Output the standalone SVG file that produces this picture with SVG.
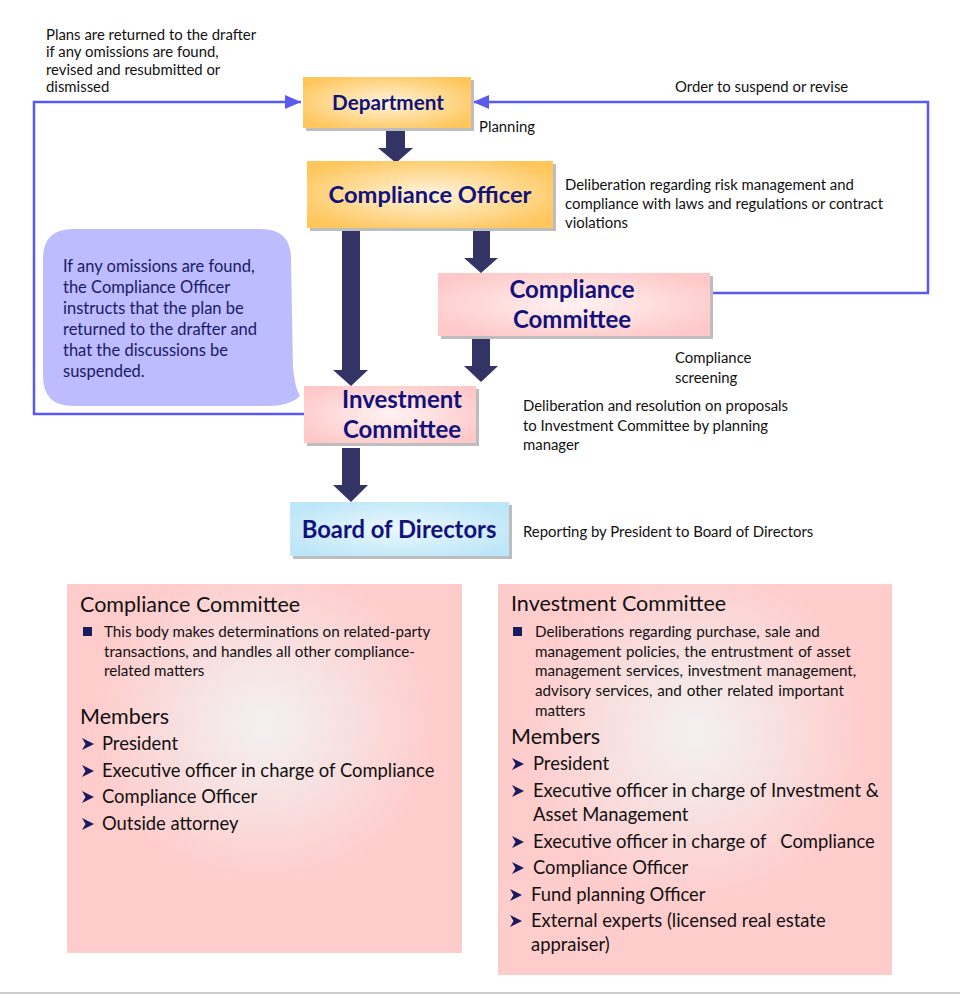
<svg xmlns="http://www.w3.org/2000/svg" width="960" height="995" viewBox="0 0 960 995">
<style>
.lbl{font-family:Lato,"Open Sans","Liberation Sans",sans-serif;font-size:14.9px;fill:#111}
.ttl{font-family:Lato,"Open Sans","Liberation Sans",sans-serif;font-weight:bold;fill:#12127a;text-anchor:middle}
.bub{font-family:Lato,"Open Sans","Liberation Sans",sans-serif;font-size:16.5px;fill:#1a1a66}
.ph{font-family:Lato,"Open Sans","Liberation Sans",sans-serif;font-size:21.5px;fill:#111}
.pt{font-family:Lato,"Open Sans","Liberation Sans",sans-serif;font-size:15.2px;fill:#111}
.pm{font-family:Lato,"Open Sans","Liberation Sans",sans-serif;font-size:18.4px;fill:#111}
.shadow{fill:#bdbdbd}
.fat{fill:#333366}
.blue{fill:none;stroke:#5a5aef;stroke-width:2.5}
</style>
<defs>
<radialGradient id="gOr" cx="50%" cy="50%" r="60%">
<stop offset="0" stop-color="#fff4dc"/><stop offset="1" stop-color="#ffc65c"/>
</radialGradient>
<radialGradient id="gPk" cx="50%" cy="50%" r="60%">
<stop offset="0" stop-color="#fff2f2"/><stop offset="1" stop-color="#ffc8c8"/>
</radialGradient>
<radialGradient id="gBl" cx="50%" cy="50%" r="60%">
<stop offset="0" stop-color="#eaf8fe"/><stop offset="1" stop-color="#bde6f8"/>
</radialGradient>
<radialGradient id="gPanel" cx="50%" cy="38%" r="58%">
<stop offset="0" stop-color="#f4f0f0"/><stop offset="0.25" stop-color="#f6e6e6"/><stop offset="0.75" stop-color="#ffcccc"/><stop offset="1" stop-color="#ffcccc"/>
</radialGradient>
<marker id="ah" markerWidth="16" markerHeight="14" refX="16" refY="7" orient="auto" markerUnits="userSpaceOnUse">
<path d="M0,0 L16,7 L0,14 Z" fill="#5a5aef"/>
</marker>
<path id="chev" d="M0,0 L12,6 L0,12 L3.5,6 Z" fill="#1a1a5e"/>
</defs>
<rect width="960" height="995" fill="#fff"/>
<line x1="0" y1="993" x2="960" y2="993" stroke="#cccccc" stroke-width="2"/>

<g id="connectors">
<polyline class="blue" points="304,414 34,414 34,102 301,102" marker-end="url(#ah)"/>
<polyline class="blue" points="710,293 928,293 928,102 473,102" marker-end="url(#ah)"/>
<path class="fat" d="M386,128 H405 V148 H413 L396,163 L378,148 H386 Z"/>
<path class="fat" d="M342,228 H360 V370 H368 L351,386 L333,370 H342 Z"/>
<path class="fat" d="M473,228 H490 V258 H498 L481,273 L464,258 H473 Z"/>
<path class="fat" d="M472,336 H490 V366 H498 L481,382 L464,366 H472 Z"/>
<path class="fat" d="M342,448 H360 V485 H368 L351,502 L333,485 H342 Z"/>
</g>

<g id="department">
<rect class="shadow" x="306" y="80" width="168" height="51"/>
<rect x="303" y="77" width="168" height="51" fill="url(#gOr)"/>
<text class="ttl" x="388" y="110" font-size="20.7">Department</text>
</g>

<g id="compliance-officer">
<rect class="shadow" x="310" y="164" width="246" height="67"/>
<rect x="307" y="161" width="246" height="67" fill="url(#gOr)"/>
<text class="ttl" x="430" y="203" font-size="23.7">Compliance Officer</text>
</g>

<g id="compliance-committee">
<rect class="shadow" x="441" y="276" width="272" height="63"/>
<rect x="438" y="273" width="272" height="63" fill="url(#gPk)"/>
<text class="ttl" x="572" y="298" font-size="24">Compliance</text>
<text class="ttl" x="572" y="328" font-size="24">Committee</text>
</g>

<g id="investment-committee">
<rect class="shadow" x="307" y="389" width="172" height="57"/>
<rect x="304" y="386" width="172" height="57" fill="url(#gPk)"/>
<text class="ttl" x="402" y="408" font-size="24">Investment</text>
<text class="ttl" x="402" y="438" font-size="24">Committee</text>
</g>

<g id="board">
<rect class="shadow" x="293" y="505" width="219" height="54"/>
<rect x="290" y="502" width="219" height="54" fill="url(#gBl)"/>
<text class="ttl" x="399" y="538" font-size="23.8">Board of Directors</text>
</g>

<g id="bubble">
<path d="M73,229 H261 Q291,229 291,259 L293,368 Q295,388 300,396 Q290,406 268,406 H73 Q43,406 43,376 V259 Q43,229 73,229 Z" fill="#bcbcff"/>
<text class="bub" x="63" y="272">If any omissions are found,</text>
<text class="bub" x="63" y="293">the Compliance Officer</text>
<text class="bub" x="63" y="314">instructs that the plan be</text>
<text class="bub" x="63" y="335">returned to the drafter and</text>
<text class="bub" x="63" y="356">that the discussions be</text>
<text class="bub" x="63" y="377">suspended.</text>
</g>

<g id="labels">
<text class="lbl" x="46" y="40">Plans are returned to the drafter</text>
<text class="lbl" x="46" y="57">if any omissions are found,</text>
<text class="lbl" x="46" y="75">revised and resubmitted or</text>
<text class="lbl" x="46" y="92">dismissed</text>
<text class="lbl" x="479" y="132">Planning</text>
<text class="lbl" x="675" y="92">Order to suspend or revise</text>
<text class="lbl" x="565" y="190">Deliberation regarding risk management and</text>
<text class="lbl" x="565" y="209">compliance with laws and regulations or contract</text>
<text class="lbl" x="565" y="228">violations</text>
<text class="lbl" x="675" y="363">Compliance</text>
<text class="lbl" x="675" y="383">screening</text>
<text class="lbl" x="523" y="411">Deliberation and resolution on proposals</text>
<text class="lbl" x="523" y="431">to Investment Committee by planning</text>
<text class="lbl" x="523" y="450">manager</text>
<text class="lbl" x="523" y="537">Reporting by President to Board of Directors</text>
</g>

<g id="panel-compliance">
<rect x="67" y="584" width="395" height="369" fill="url(#gPanel)"/>
<text class="ph" x="80" y="612">Compliance Committee</text>
<rect x="83" y="627" width="9" height="9" fill="#1a1a5e"/>
<text class="pt" x="104" y="637">This body makes determinations on related-party</text>
<text class="pt" x="104" y="657">transactions, and handles all other compliance-</text>
<text class="pt" x="104" y="676">related matters</text>
<text class="ph" x="80" y="724">Members</text>
<use href="#chev" x="82" y="738"/>
<text class="pm" x="102" y="750">President</text>
<use href="#chev" x="82" y="765"/>
<text class="pm" x="102" y="777">Executive officer in charge of Compliance</text>
<use href="#chev" x="82" y="791"/>
<text class="pm" x="102" y="803">Compliance Officer</text>
<use href="#chev" x="82" y="818"/>
<text class="pm" x="102" y="830">Outside attorney</text>
</g>

<g id="panel-investment">
<rect x="498" y="584" width="394" height="391" fill="url(#gPanel)"/>
<text class="ph" x="511" y="611">Investment Committee</text>
<rect x="513" y="627" width="9" height="9" fill="#1a1a5e"/>
<text class="pt" x="535" y="637" word-spacing="1">Deliberations regarding purchase, sale and</text>
<text class="pt" x="535" y="657" word-spacing="1">management policies, the entrustment of asset</text>
<text class="pt" x="535" y="676" word-spacing="1">management services, investment management,</text>
<text class="pt" x="535" y="696" word-spacing="1">advisory services, and other related important</text>
<text class="pt" x="535" y="716">matters</text>
<text class="ph" x="511" y="744">Members</text>
<use href="#chev" x="512" y="758"/>
<text class="pm" x="533" y="770">President</text>
<use href="#chev" x="512" y="785"/>
<text class="pm" x="533" y="797">Executive officer in charge of Investment &amp;</text>
<text class="pm" x="533" y="821">Asset Management</text>
<use href="#chev" x="512" y="836"/>
<text class="pm" x="533" y="848" xml:space="preserve">Executive officer in charge of   Compliance</text>
<use href="#chev" x="512" y="862"/>
<text class="pm" x="533" y="874">Compliance Officer</text>
<use href="#chev" x="510" y="889"/>
<text class="pm" x="531" y="901">Fund planning Officer</text>
<use href="#chev" x="510" y="915"/>
<text class="pm" x="531" y="927">External experts (licensed real estate</text>
<text class="pm" x="531" y="951">appraiser)</text>
</g>
</svg>
